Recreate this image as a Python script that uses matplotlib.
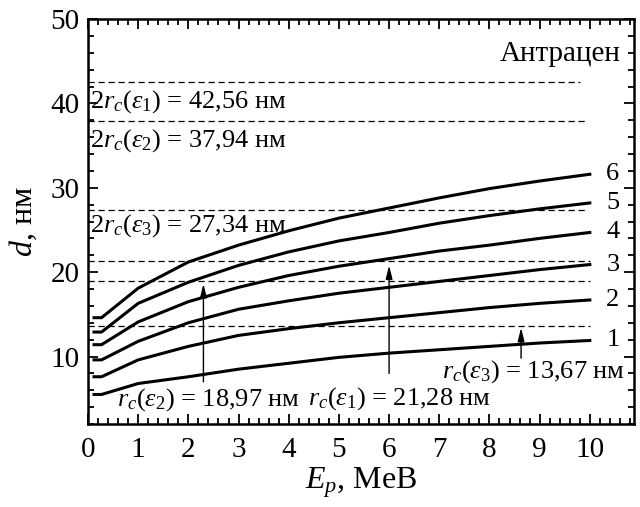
import matplotlib
matplotlib.use("Agg")
import matplotlib.pyplot as plt
from matplotlib.ticker import MultipleLocator

plt.rcParams['font.family'] = ['Liberation Serif', 'DejaVu Serif']
plt.rcParams['mathtext.fontset'] = 'custom'
plt.rcParams['mathtext.rm'] = 'Liberation Serif'
plt.rcParams['mathtext.it'] = 'Liberation Serif:italic'

# Энергия протонов, МэВ
energia = [0.12, 0.27, 1, 2, 3, 4, 5, 6, 7, 8, 9, 10]

# Кривые 1-6, d (нм)
curva1 = [5.5, 5.5, 6.8, 7.6, 8.5, 9.2, 9.9, 10.4, 10.8, 11.2, 11.6, 11.9]
curva2 = [7.6, 7.6, 9.6, 11.2, 12.5, 13.3, 14.0, 14.6, 15.2, 15.8, 16.3, 16.7]
curva3 = [9.6, 9.6, 11.8, 14.0, 15.6, 16.6, 17.5, 18.2, 18.9, 19.6, 20.3, 20.9]
curva4 = [11.4, 11.4, 14.1, 16.5, 18.2, 19.6, 20.7, 21.6, 22.5, 23.2, 24.0, 24.7]
curva5 = [12.9, 12.9, 16.3, 18.8, 20.8, 22.4, 23.7, 24.7, 25.8, 26.7, 27.5, 28.2]
curva6 = [14.6, 14.6, 18.1, 21.2, 23.2, 24.9, 26.4, 27.6, 28.8, 29.9, 30.8, 31.6]
curvas = [curva1, curva2, curva3, curva4, curva5, curva6]
etiquetas = ["1", "2", "3", "4", "5", "6"]

# Уровни 2r_c и r_c
niveles = [42.56, 37.94, 27.34, 21.28, 18.97, 13.67]
fin_niveles = [9.8, 9.9, 9.9, 10.0, 10.0, 10.0]

fig = plt.figure(figsize=(6.4, 5.07), dpi=100)
ax = fig.add_axes([0.1375, 0.1637, 0.8531, 0.7988])

for c in curvas:
    ax.plot(energia, c, color="black", lw=2.2)

for c, lab in zip(curvas, etiquetas):
    ax.text(10.46, c[-1], lab, fontsize=19, ha="center", va="center")

for nv, fin in zip(niveles, fin_niveles):
    ax.plot([0, fin], [nv, nv], color="black", lw=0.9, dashes=(5, 3))

ax.text(0.04, 39.5, r"$2r_c(\varepsilon_1)$ = 42,56 нм", fontsize=19, va="baseline")
ax.text(0.04, 34.9, r"$2r_c(\varepsilon_2)$ = 37,94 нм", fontsize=19, va="baseline")
ax.text(0.04, 24.8, r"$2r_c(\varepsilon_3)$ = 27,34 нм", fontsize=19, va="baseline")
ax.text(0.57, 4.16, r"$r_c(\varepsilon_2)$ = 18,97 нм", fontsize=19, va="baseline")
ax.text(4.38, 4.35, r"$r_c(\varepsilon_1)$ = 21,28 нм", fontsize=19, va="baseline")
ax.text(7.05, 7.5, r"$r_c(\varepsilon_3)$ = 13,67 нм", fontsize=19, va="baseline")
ax.text(10.62, 45.9, "Антрацен", fontsize=21, ha="right", va="center")

flecha = dict(arrowstyle="-|>,head_length=0.8,head_width=0.2", lw=1, color="black",
              mutation_scale=10, shrinkA=0, shrinkB=0)
ax.annotate("", xy=(2.3, 18.6), xytext=(2.3, 7.0), arrowprops=flecha)
ax.annotate("", xy=(6.0, 20.8), xytext=(6.0, 8.0), arrowprops=flecha)
ax.annotate("", xy=(8.63, 13.4), xytext=(8.63, 9.8), arrowprops=flecha)

ax.set_xlim(0, 10.88)
ax.set_ylim(2, 50)
ax.xaxis.set_major_locator(MultipleLocator(1))
ax.xaxis.set_minor_locator(MultipleLocator(0.2))
ax.yaxis.set_major_locator(MultipleLocator(10))
ax.yaxis.set_minor_locator(MultipleLocator(2))
ax.tick_params(which="both", direction="in", top=True, right=True, width=1.3, labelsize=21)
ax.tick_params(which="major", length=7)
ax.tick_params(which="minor", length=4)
ax.tick_params(axis="x", pad=9)
ax.tick_params(axis="y", pad=6)
for s in ax.spines.values():
    s.set_linewidth(1.8)

ax.set_xlabel(r"$E_p$, МеВ", fontsize=23, labelpad=2)
ax.set_ylabel(r"$d$, нм", fontsize=23, labelpad=8)

fig.savefig("out.png", dpi=100)
